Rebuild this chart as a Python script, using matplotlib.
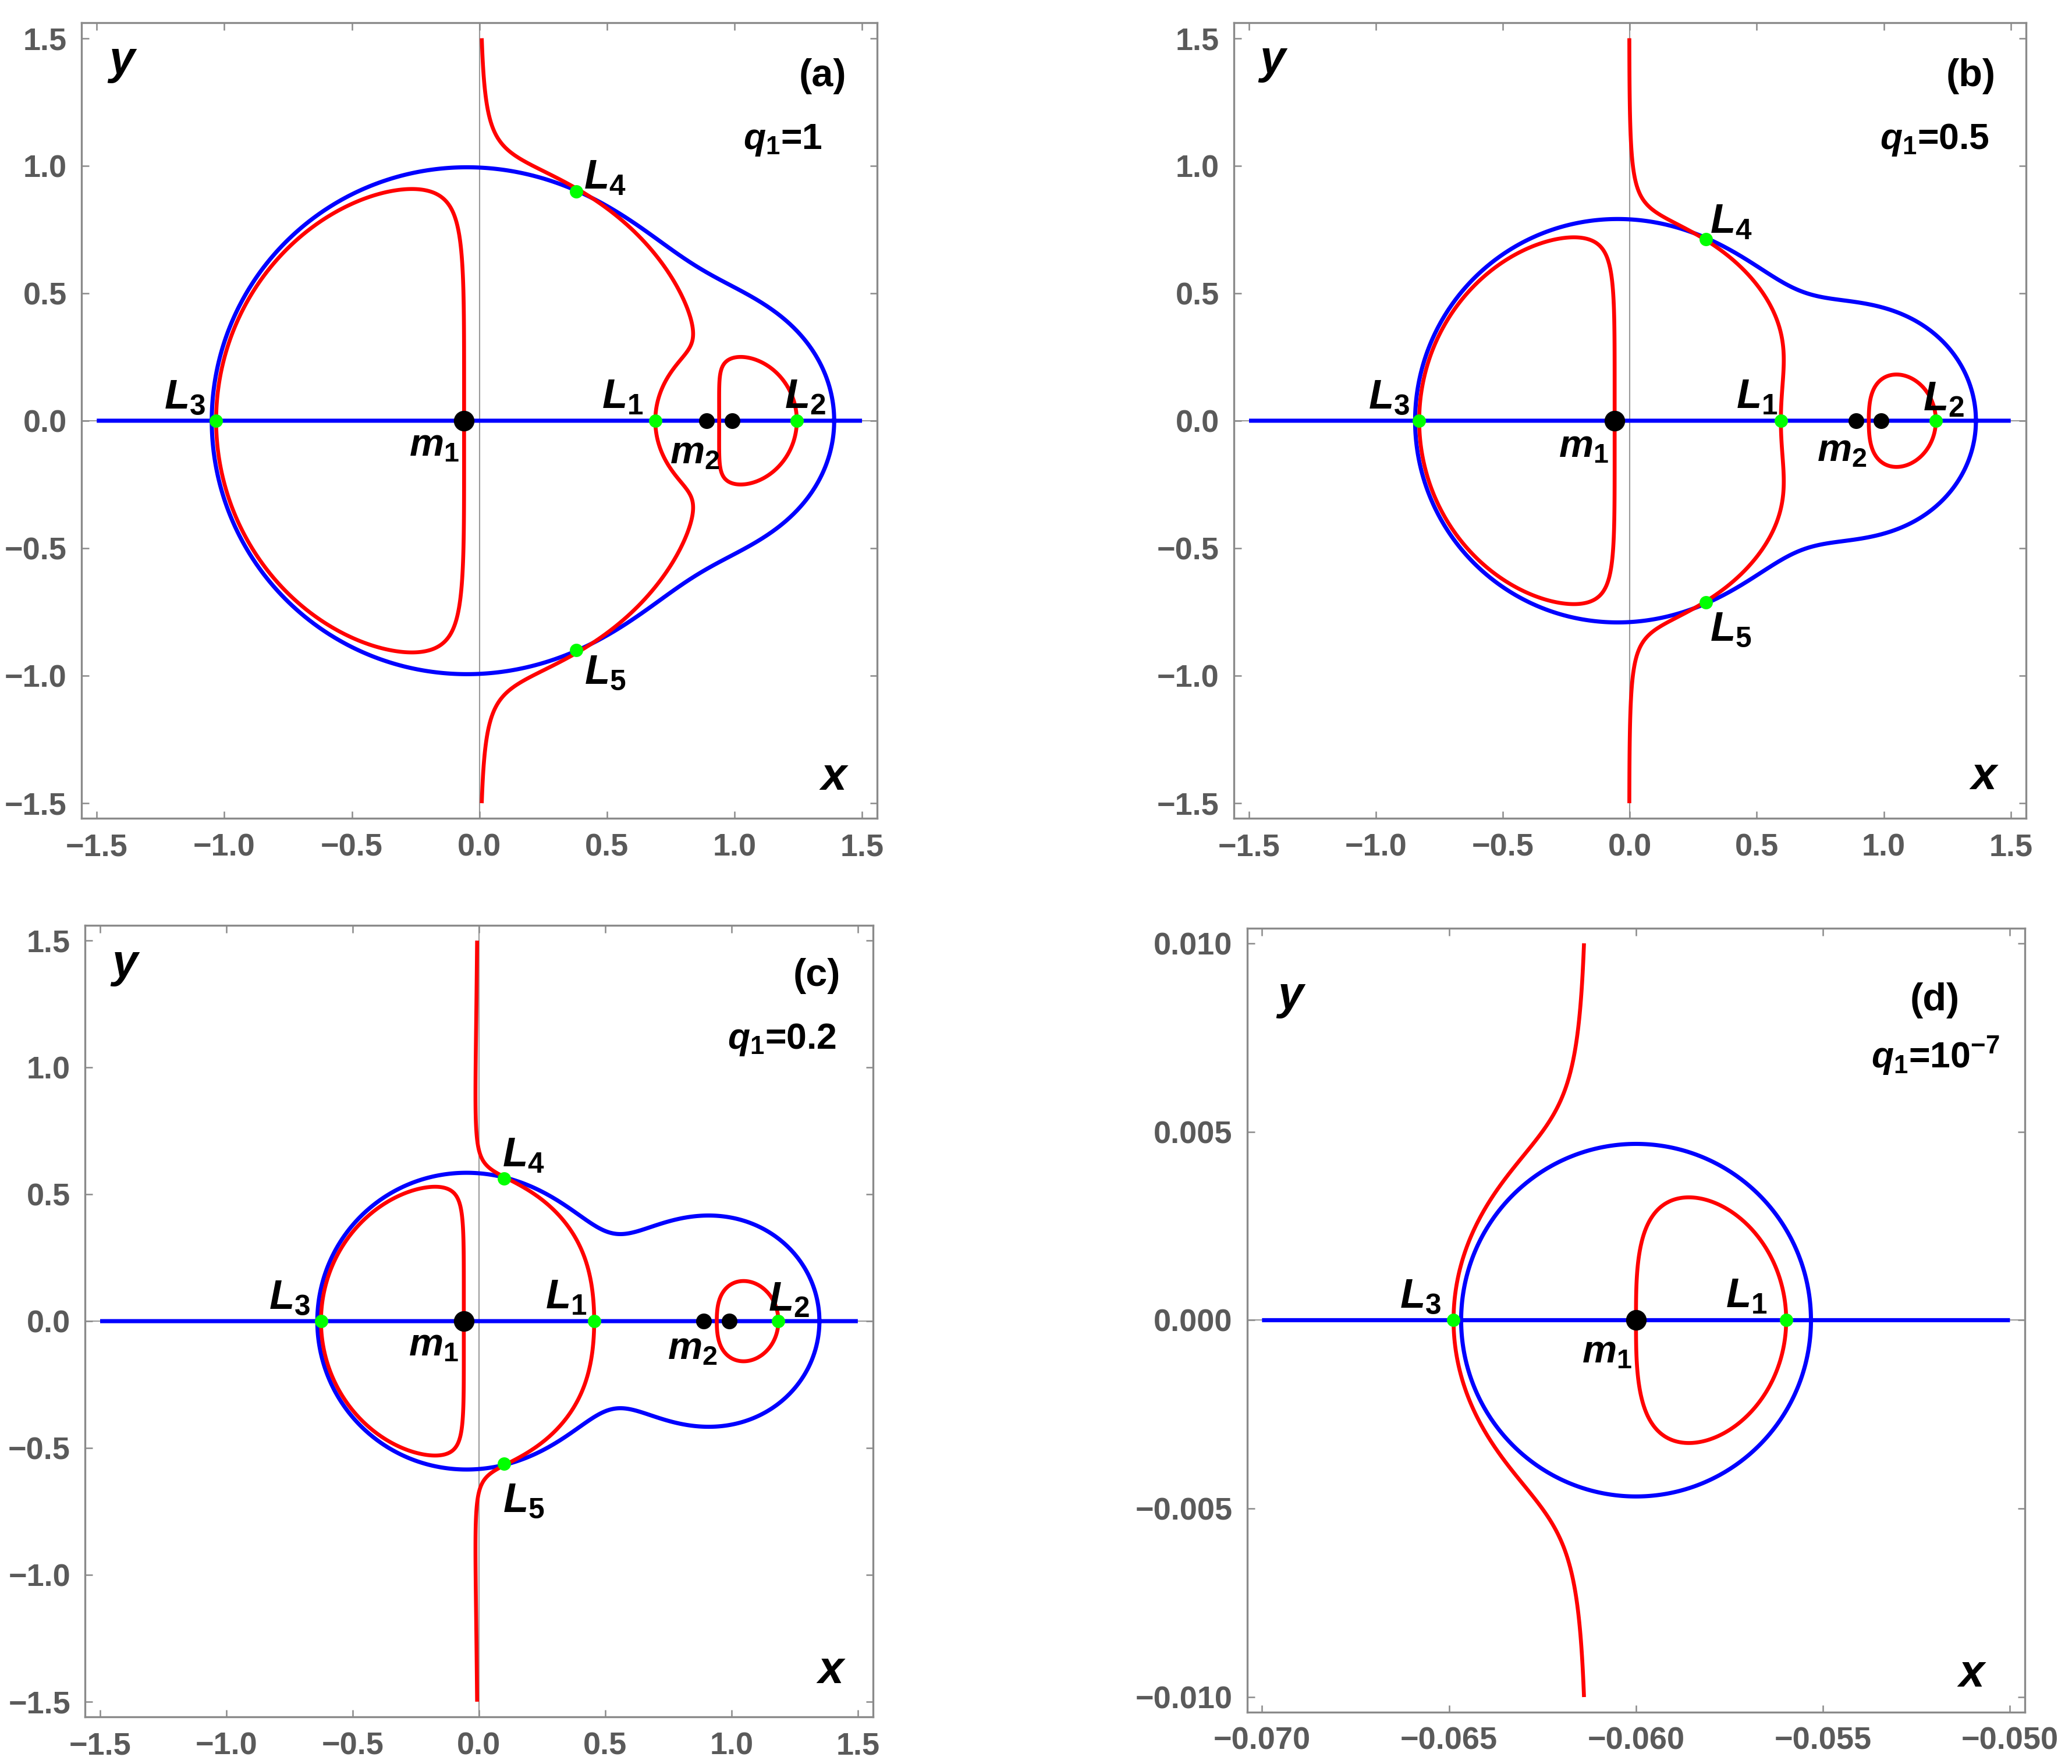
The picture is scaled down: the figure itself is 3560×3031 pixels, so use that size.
import numpy as np
import matplotlib
matplotlib.use("Agg")
import matplotlib.pyplot as plt

# ------------------------------------------------------------------ data
PANEL_TAGS = ["(a)", "(b)", "(c)", "(d)"]
Q1_VALUES = [1.0, 0.5, 0.2, 1e-7]
Q1_TEXTS = [r"$q_1$=1", r"$q_1$=0.5", r"$q_1$=0.2", r"$q_1$=10$^{-7}$"]
MU = 0.06            # mass parameter (m1 at -MU, centre of m2 at 1-MU)
SEG_HALF = 0.05      # half length of the elongated second primary m2
N2 = 0.979           # squared mean motion

# plotted domains (x0, x1, y0, y1)
DOMAINS = [(-1.5, 1.5, -1.5, 1.5), (-1.5, 1.5, -1.5, 1.5),
           (-1.5, 1.5, -1.5, 1.5), (-0.07, -0.05, -0.01, 0.01)]
TICKS_BIG = [-1.5, -1.0, -0.5, 0.0, 0.5, 1.0, 1.5]
TICKS_BIG_LABELS = ["\u22121.5", "\u22121.0", "\u22120.5", "0.0", "0.5", "1.0", "1.5"]
XTICKS_D = [-0.070, -0.065, -0.060, -0.055, -0.050]
XTICKS_D_LABELS = ["\u22120.070", "\u22120.065", "\u22120.060", "\u22120.055", "\u22120.050"]
YTICKS_D = [-0.010, -0.005, 0.000, 0.005, 0.010]
YTICKS_D_LABELS = ["\u22120.010", "\u22120.005", "0.000", "0.005", "0.010"]

# equilibrium points
L1_READ = [0.684, 0.591, 0.449, -0.0560]
L2_READ = [1.239, 1.201, 1.178, None]
L3_READ = [-1.032, -0.820, -0.622, -0.0649]
L4_READ = [(0.38, 0.90), (0.300, 0.713), (0.100, 0.563), None]

# label positions (data coordinates) per panel
LABELS = [
    {"L3": (-1.155, 0.09), "L1": (0.561, 0.09), "L2": (1.277, 0.09),
     "L4": (0.493, 0.95), "L5": (0.493, -0.99), "m1": (-0.177, -0.10), "m2": (0.845, -0.13),
     "tag": (1.345, 1.35), "q": (1.19, 1.10), "y": (-1.40, 1.405), "x": (1.39, -1.40)},
    {"L3": (-0.949, 0.09), "L1": (0.50, 0.09), "L2": (1.235, 0.08),
     "L4": (0.398, 0.776), "L5": (0.398, -0.822), "m1": (-0.182, -0.104), "m2": (0.836, -0.12),
     "tag": (1.343, 1.352), "q": (1.20, 1.10), "y": (-1.405, 1.406), "x": (1.395, -1.398)},
    {"L3": (-0.75, 0.09), "L1": (0.345, 0.09), "L2": (1.228, 0.08),
     "L4": (0.177, 0.65), "L5": (0.177, -0.71), "m1": (-0.18, -0.097), "m2": (0.845, -0.11),
     "tag": (1.338, 1.36), "q": (1.20, 1.11), "y": (-1.40, 1.40), "x": (1.395, -1.38)},
    {"L3": (-0.06576, 0.00061), "L1": (-0.05704, 0.00061), "m1": (-0.06078, -0.00087),
     "tag": (-0.05201, 0.00849), "q": (-0.0520, 0.00701), "y": (-0.06923, 0.00856),
     "x": (-0.05102, -0.0094)},
]

AX_RECTS = [[0.0393, 0.536, 0.3840, 0.451],
            [0.5953, 0.536, 0.3822, 0.451],
            [0.0410, 0.0267, 0.3802, 0.4487],
            [0.6017, 0.0294, 0.3753, 0.4444]]

# ------------------------------------------------------------------ style
plt.rcParams["font.family"] = ["Liberation Sans", "DejaVu Sans"]
plt.rcParams["font.weight"] = "bold"
plt.rcParams["mathtext.fontset"] = "custom"
plt.rcParams["mathtext.it"] = "Liberation Sans:italic:bold"
plt.rcParams["mathtext.rm"] = "Liberation Sans:bold"
plt.rcParams["mathtext.bf"] = "Liberation Sans:bold"
plt.rcParams["mathtext.sf"] = "Liberation Sans:bold"

X1 = -MU
XM = 1.0 - MU
XA = XM - SEG_HALF
XB = XM + SEG_HALF


def _parts(x, y, q1):
    r1 = np.hypot(x - X1, y)
    ra = np.hypot(x - XA, y)
    rb = np.hypot(x - XB, y)
    s = ra + rb
    g = 2.0 * MU / (s * s - 4.0 * SEG_HALF ** 2)
    return r1, ra, rb, g


def omega_x(x, y, q1):
    r1, ra, rb, g = _parts(x, y, q1)
    return N2 * x - q1 * (1 - MU) * (x - X1) / r1 ** 3 - g * ((x - XA) / ra + (x - XB) / rb)


def omega_y_over_y(x, y, q1):
    r1, ra, rb, g = _parts(x, y, q1)
    return N2 - q1 * (1 - MU) / r1 ** 3 - g * (1.0 / ra + 1.0 / rb)


def solve_collinear(q1, guess, span):
    xs = np.linspace(guess - span, guess + span, 4001)
    f = omega_x(xs, 0.0, q1)
    sc = np.where((np.sign(f[:-1]) != np.sign(f[1:])) & np.isfinite(f[:-1]) & np.isfinite(f[1:]))[0]
    if len(sc) == 0:
        return guess
    i = sc[np.argmin(np.abs(xs[sc] - guess))]
    a, b = xs[i], xs[i + 1]
    fa = omega_x(a, 0.0, q1)
    for _ in range(80):
        m = 0.5 * (a + b)
        fm = omega_x(m, 0.0, q1)
        if np.sign(fm) == np.sign(fa):
            a, fa = m, fm
        else:
            b = m
    return 0.5 * (a + b)


fig = plt.figure(figsize=(3561 / 300, 3031 / 300), dpi=300)
fig.patch.set_facecolor("white")

GRAY_TXT = "#5a5a5a"
GRAY_FRAME = "#8a8a8a"

for k in range(4):
    ax = fig.add_axes(AX_RECTS[k])
    q1 = Q1_VALUES[k]
    x0, x1, y0, y1 = DOMAINS[k]
    N = 1400
    xs = np.linspace(x0, x1, N)
    ys = np.linspace(y0, y1, N)
    X, Y = np.meshgrid(xs, ys)
    with np.errstate(all="ignore"):
        FX = omega_x(X, Y, q1)
        FY = Y * omega_y_over_y(X, Y, q1)
    FX = np.where(np.isfinite(FX), FX, np.nan)
    FY = np.where(np.isfinite(FY), FY, np.nan)

    padx = 0.02 * (x1 - x0)
    pady = 0.02 * (y1 - y0)
    ax.set_xlim(x0 - padx, x1 + padx)
    ax.set_ylim(y0 - pady, y1 + pady)

    ax.axhline(0, color="#9a9a9a", lw=0.5, zorder=0)
    if x0 < 0 < x1:
        ax.axvline(0, color="#9a9a9a", lw=0.5, zorder=0)

    ax.contour(X, Y, FY, levels=[0.0], colors=["#0000ff"], linewidths=1.7, zorder=2)
    ax.contour(X, Y, FX, levels=[0.0], colors=["#ff0000"], linewidths=1.6, zorder=3)

    # primaries
    ax.plot([X1], [0], "o", color="black", ms=7.5, zorder=5)
    if k < 3:
        ax.plot([XA, XB], [0, 0], "o", color="black", ms=5.5, zorder=5)

    # equilibrium points
    span = 0.05 if k < 3 else 0.0006
    lx, ly = [], []
    for guess in (L1_READ[k], L2_READ[k], L3_READ[k]):
        if guess is not None:
            lx.append(solve_collinear(q1, guess, span))
            ly.append(0.0)
    if L4_READ[k] is not None:
        tx, ty = L4_READ[k]
        lx += [tx, tx]
        ly += [ty, -ty]
    ax.plot(lx, ly, "o", color="#00ff00", ms=5.5, mec="none", zorder=6)

    lab = LABELS[k]
    for name in ("L1", "L2", "L3", "L4", "L5"):
        if name in lab:
            ax.text(*lab[name], r"$L_{%s}$" % name[1], fontsize=17, ha="center", va="center", zorder=7)
    for name in ("m1", "m2"):
        if name in lab:
            ax.text(*lab[name], r"$m_{%s}$" % name[1], fontsize=16, ha="center", va="center", zorder=7)
    ax.text(*lab["tag"], PANEL_TAGS[k], fontsize=16, fontweight="bold", ha="center", va="center")
    ax.text(*lab["q"], Q1_TEXTS[k], fontsize=15, fontweight="bold", ha="center", va="center")
    ax.text(*lab["y"], r"$y$", fontsize=19, ha="center", va="center")
    ax.text(*lab["x"], r"$x$", fontsize=19, ha="center", va="center")

    if k < 3:
        ax.set_xticks(TICKS_BIG)
        ax.set_xticklabels(TICKS_BIG_LABELS)
        ax.set_yticks(TICKS_BIG)
        ax.set_yticklabels(TICKS_BIG_LABELS)
    else:
        ax.set_xticks(XTICKS_D)
        ax.set_xticklabels(XTICKS_D_LABELS)
        ax.set_yticks(YTICKS_D)
        ax.set_yticklabels(YTICKS_D_LABELS)
    ax.tick_params(direction="in", length=3, width=0.6, color=GRAY_FRAME,
                   top=True, right=True, labelsize=13, labelcolor=GRAY_TXT, pad=6)
    for lbl in ax.get_xticklabels() + ax.get_yticklabels():
        lbl.set_fontweight("bold")
    for sp in ax.spines.values():
        sp.set_color(GRAY_FRAME)
        sp.set_linewidth(0.8)

fig.savefig("out.png", dpi=300, facecolor="white")
